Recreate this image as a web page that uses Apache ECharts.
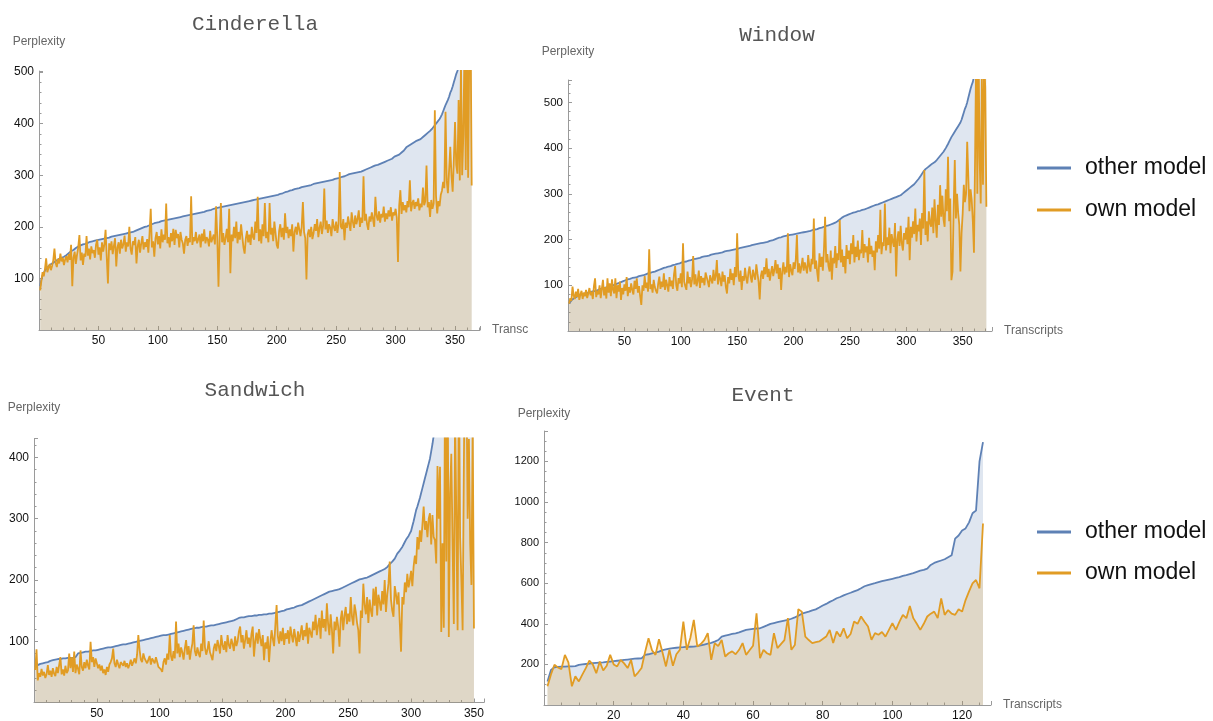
<!DOCTYPE html>
<html>
<head>
<meta charset="utf-8">
<script src="https://cdn.jsdelivr.net/npm/echarts@6/dist/echarts.min.js"></script>
<style>
  html, body { margin: 0; padding: 0; background: #fff; }
  #chart { width: 1213px; height: 721px; }
</style>
</head>
<body>
<div id="chart"></div>
<script>
// perplexity per transcript (transcript index starts at 1)
const cinderellaOther = [
  85, 98, 106, 111, 115, 118, 121, 124, 126, 128,
  129, 131, 132, 134, 135, 137, 138, 139, 140, 141,
  142, 143, 145, 147, 149, 151, 153, 154, 155, 157,
  159, 160, 162, 163, 164, 165, 166, 167, 167, 168,
  169, 170, 171, 171, 172, 173, 173, 174, 174, 175,
  175, 176, 176, 177, 177, 178, 178, 179, 179, 180,
  181, 181, 182, 182, 183, 183, 184, 184, 185, 185,
  186, 186, 187, 187, 188, 188, 189, 189, 190, 191,
  192, 193, 194, 195, 196, 197, 198, 199, 200, 200,
  201, 202, 203, 204, 205, 206, 207, 207, 208, 209,
  209, 210, 211, 211, 212, 212, 213, 213, 214, 214,
  215, 215, 216, 216, 217, 217, 218, 218, 219, 219,
  220, 220, 221, 221, 222, 222, 223, 223, 224, 224,
  225, 225, 226, 226, 227, 227, 228, 229, 229, 230,
  231, 231, 232, 233, 233, 234, 235, 235, 236, 237,
  237, 238, 238, 239, 239, 240, 240, 241, 241, 242,
  242, 242, 243, 243, 244, 244, 245, 245, 246, 246,
  247, 247, 248, 248, 249, 249, 250, 250, 251, 251,
  252, 252, 253, 253, 254, 254, 255, 255, 256, 256,
  257, 257, 258, 258, 259, 259, 260, 260, 261, 262,
  262, 263, 264, 265, 265, 266, 267, 268, 268, 269,
  270, 270, 271, 272, 273, 273, 274, 275, 275, 276,
  277, 277, 278, 279, 279, 280, 280, 281, 281, 282,
  283, 283, 284, 284, 285, 285, 286, 286, 287, 287,
  288, 288, 289, 289, 290, 290, 291, 292, 293, 293,
  294, 295, 295, 296, 297, 297, 298, 299, 300, 301,
  302, 302, 303, 303, 304, 304, 305, 305, 306, 306,
  307, 308, 309, 310, 311, 312, 313, 314, 315, 316,
  317, 318, 319, 319, 320, 321, 322, 323, 324, 325,
  326, 327, 328, 329, 330, 331, 332, 334, 336, 337,
  338, 339, 340, 342, 344, 346, 348, 351, 354, 356,
  357, 358, 360, 362, 363, 364, 366, 367, 368, 369,
  370, 372, 374, 376, 378, 380, 382, 384, 386, 389,
  391, 394, 397, 400, 403, 406, 409, 413, 418, 424,
  430, 436, 439, 446, 452, 460, 465, 472, 480, 488,
  496, 502, 512, 525, 545, 570, 600, 630, 660, 700,
  740, 790, 850, 920
];
const cinderellaOwn = [
  77, 95, 112, 104, 118, 139, 112, 120, 128, 116,
  124, 135, 158, 130, 122, 138, 129, 148, 133, 140,
  126, 137, 143, 131, 147, 136, 165, 85, 140, 152,
  128, 146, 160, 184, 135, 150, 126, 148, 142, 182,
  144, 158, 137, 162, 149, 155, 140, 166, 175, 146,
  160, 135, 170, 152, 166, 194, 141, 90, 168, 155,
  172, 147, 163, 178, 123, 160, 170, 148, 175, 158,
  166, 183, 152, 170, 162, 200, 158, 146, 172, 165,
  180, 129, 162, 175, 150, 168, 182, 156, 170, 161,
  176, 150, 188, 235, 160, 172, 142, 178, 190, 166,
  182, 158, 195, 170, 185, 175, 245, 168, 180, 160,
  188, 172, 196, 165, 194, 178, 186, 160, 190, 175,
  168, 148, 175, 182, 163, 178, 170, 259, 165, 180,
  172, 190, 168, 176, 185, 160, 187, 172, 195, 168,
  180, 175, 162, 192, 170, 171, 185, 166, 240, 178,
  84, 182, 246, 170, 188, 165, 178, 196, 170, 235,
  110, 185, 172, 200, 178, 210, 168, 190, 175, 205,
  182, 160, 148, 178, 192, 170, 185, 165, 200, 180,
  175, 210, 188, 258, 172, 195, 168, 205, 182, 246,
  178, 190, 170, 246, 185, 198, 172, 210, 188, 165,
  158, 192, 205, 180, 198, 175, 226, 188, 200, 178,
  195, 182, 205, 152, 190, 200, 185, 208, 195, 182,
  200, 248, 190, 178, 98, 185, 195, 180, 200, 176,
  188, 205, 192, 215, 180, 198, 210, 186, 202, 274,
  195, 212, 188, 205, 198, 182, 215, 200, 192, 210,
  188, 205, 306, 200, 196, 215, 174, 208, 198, 220,
  205, 192, 228, 210, 198, 222, 205, 215, 232, 200,
  218, 208, 298, 212, 225, 205, 194, 220, 210, 228,
  215, 200, 258, 222, 212, 230, 208, 225, 218, 239,
  210, 226, 215, 232, 220, 238, 212, 228, 222, 235,
  218, 132, 240, 271, 225, 248, 232, 242, 228, 250,
  238, 290, 230, 245, 252, 235, 248, 240, 255, 232,
  245, 238, 276, 242, 250, 319, 238, 248, 219, 252,
  235, 245, 426, 260, 226, 250, 240, 262, 270, 287,
  275, 423, 290, 265, 310, 355, 300, 268, 330, 403,
  320, 303, 446, 290, 520, 300, 380, 560, 310, 600,
  295, 540, 620, 280
];

const windowOther = [
  60, 64, 67, 69, 71, 72, 74, 75, 77, 78,
  79, 80, 81, 81, 82, 83, 83, 84, 85, 85,
  86, 86, 87, 88, 88, 89, 90, 91, 92, 92,
  93, 94, 95, 95, 96, 96, 97, 98, 99, 100,
  101, 102, 103, 104, 105, 106, 107, 108, 109, 110,
  111, 112, 113, 113, 114, 115, 116, 116, 117, 118,
  118, 119, 120, 120, 121, 122, 122, 123, 124, 125,
  126, 126, 127, 128, 129, 130, 130, 131, 132, 133,
  134, 135, 136, 137, 138, 138, 139, 140, 141, 142,
  142, 143, 144, 145, 145, 146, 147, 148, 148, 149,
  150, 150, 151, 152, 152, 153, 154, 155, 155, 156,
  157, 157, 158, 159, 159, 160, 160, 161, 162, 162,
  163, 164, 164, 165, 165, 166, 167, 167, 168, 168,
  169, 170, 170, 171, 171, 172, 172, 173, 174, 174,
  175, 175, 176, 176, 177, 177, 178, 179, 179, 180,
  180, 181, 182, 182, 183, 183, 184, 185, 185, 186,
  186, 187, 188, 188, 189, 189, 190, 190, 191, 192,
  192, 193, 193, 194, 194, 195, 195, 196, 197, 198,
  198, 199, 200, 201, 202, 203, 204, 204, 205, 206,
  207, 207, 208, 208, 209, 209, 210, 210, 211, 211,
  212, 212, 213, 213, 214, 214, 215, 215, 216, 216,
  217, 218, 218, 219, 219, 220, 221, 221, 222, 223,
  223, 224, 225, 225, 226, 227, 228, 229, 230, 231,
  231, 232, 233, 234, 235, 236, 237, 238, 240, 242,
  244, 246, 248, 250, 251, 252, 253, 254, 255, 256,
  257, 258, 259, 259, 260, 261, 262, 262, 263, 264,
  265, 265, 266, 267, 268, 269, 270, 271, 272, 273,
  274, 275, 276, 277, 277, 278, 279, 280, 281, 282,
  283, 284, 285, 286, 287, 288, 289, 290, 291, 292,
  293, 294, 295, 296, 297, 299, 301, 303, 305, 307,
  309, 311, 313, 315, 317, 319, 321, 324, 327, 330,
  333, 336, 340, 344, 348, 352, 354, 356, 358, 360,
  362, 364, 366, 368, 369, 371, 374, 377, 380, 383,
  386, 389, 392, 396, 400, 404, 409, 414, 419, 424,
  428, 432, 436, 440, 444, 448, 451, 456, 462, 470,
  478, 486, 492, 500, 510, 520, 530, 538, 545, 556,
  570, 590, 610, 630, 650, 680, 710, 740, 780, 820, 860
];
const windowOwn = [
  60, 72, 66, 97, 78, 70, 86, 74, 92, 68,
  80, 88, 70, 84, 76, 90, 72, 82, 94, 78,
  86, 70, 98, 115, 74, 88, 80, 100, 72, 92,
  112, 78, 96, 71, 115, 84, 104, 76, 113, 90,
  82, 115, 72, 100, 86, 108, 68, 94, 80, 102,
  88, 118, 76, 96, 84, 104, 90, 80, 110, 92,
  115, 84, 98, 76, 57, 100, 88, 120, 94, 106,
  86, 179, 92, 102, 84, 112, 96, 88, 82, 104,
  119, 92, 108, 96, 126, 90, 112, 100, 86, 118,
  98, 110, 92, 124, 142, 100, 88, 116, 104, 126,
  96, 192, 108, 98, 90, 130, 104, 118, 96, 112,
  164, 102, 124, 98, 110, 132, 94, 120, 106, 116,
  100, 128, 126, 108, 96, 122, 112, 104, 134, 110,
  120, 155, 102, 126, 114, 98, 130, 108, 122, 96,
  82, 118, 104, 136, 112, 126, 100, 140, 118, 214,
  124, 108, 132, 90, 120, 110, 138, 116, 104, 128,
  141, 118, 106, 134, 122, 112, 146, 126, 108, 69,
  120, 132, 114, 140, 124, 159, 118, 136, 110, 128,
  142, 120, 134, 155, 126, 146, 114, 138, 90, 130,
  150, 124, 140, 128, 214, 118, 146, 132, 122, 150,
  136, 156, 210, 128, 148, 126, 140, 160, 132, 150,
  138, 126, 166, 142, 130, 158, 146, 246, 136, 154,
  128, 108, 170, 140, 162, 132, 180, 250, 150, 168,
  142, 130, 176, 112, 160, 148, 186, 138, 170, 155,
  243, 150, 178, 140, 164, 126, 188, 158, 176, 146,
  192, 168, 210, 150, 184, 162, 198, 155, 178, 170,
  221, 160, 190, 172, 185, 150, 204, 168, 186, 162,
  176, 133, 196, 172, 210, 180, 265, 168, 194, 186,
  279, 176, 205, 188, 226, 170, 212, 196, 184, 236,
  119, 200, 218, 186, 230, 192, 176, 214, 200, 226,
  190, 250, 155, 228, 204, 240, 212, 268, 196, 232,
  218, 246, 188, 258, 224, 352, 210, 240, 196, 262,
  236, 228, 270, 214, 288, 240, 204, 276, 232, 319,
  250, 296, 244, 228, 310, 262, 381, 240, 290, 111,
  130, 270, 374, 246, 300, 258, 232, 130, 214, 257,
  320, 282, 300, 414, 336, 262, 310, 287, 240, 171,
  380, 620, 300, 640, 380, 279, 560, 320, 600, 533, 272
];

const sandwichOther = [
  58, 60, 61, 62, 63, 63, 64, 64, 65, 65,
  66, 67, 68, 69, 69, 70, 70, 71, 71, 71,
  71, 72, 72, 72, 72, 72, 73, 73, 73, 73,
  73, 74, 74, 76, 80, 81, 81, 82, 82, 82,
  83, 83, 83, 84, 84, 84, 85, 85, 85, 86,
  86, 86, 87, 87, 88, 88, 89, 89, 90, 90,
  90, 91, 91, 92, 92, 92, 93, 93, 94, 94,
  95, 95, 95, 96, 96, 96, 97, 97, 98, 98,
  99, 99, 100, 100, 101, 101, 102, 102, 103, 103,
  104, 104, 105, 105, 106, 106, 107, 107, 108, 108,
  109, 109, 110, 110, 110, 111, 111, 112, 112, 113,
  113, 114, 114, 115, 115, 116, 116, 117, 117, 118,
  118, 119, 119, 120, 120, 120, 121, 121, 122, 122,
  122, 123, 123, 123, 124, 124, 124, 125, 125, 125,
  126, 126, 126, 127, 127, 127, 128, 128, 129, 129,
  130, 130, 131, 131, 132, 132, 133, 134, 134, 135,
  136, 137, 138, 138, 139, 139, 139, 140, 140, 140,
  141, 141, 141, 141, 142, 142, 142, 142, 143, 143,
  143, 143, 144, 144, 144, 144, 145, 145, 145, 145,
  146, 146, 147, 147, 148, 149, 149, 150, 150, 151,
  152, 152, 153, 154, 154, 155, 155, 156, 157, 157,
  158, 158, 159, 160, 161, 162, 163, 164, 165, 166,
  167, 168, 169, 170, 171, 172, 173, 174, 175, 176,
  177, 178, 179, 180, 181, 181, 182, 182, 183, 183,
  184, 184, 185, 186, 187, 188, 189, 190, 191, 192,
  193, 194, 195, 196, 197, 198, 199, 200, 201, 202,
  202, 203, 203, 204, 204, 205, 206, 207, 208, 209,
  210, 211, 212, 213, 214, 215, 216, 217, 218, 219,
  221, 223, 226, 229, 230, 231, 235, 239, 243, 246,
  248, 250, 254, 258, 262, 266, 269, 272, 276, 280,
  288, 296, 305, 314, 320, 327, 334, 342, 350, 358,
  366, 374, 382, 390, 398, 410, 422, 436, 450, 465,
  478, 492, 506, 522, 540, 556, 574, 596, 614, 636,
  652, 676, 694, 718, 736, 758, 780, 802, 826, 848,
  866, 890, 912, 936, 958, 982, 1004, 1030, 1052, 1080
];
const sandwichOwn = [
  53, 87, 36, 48, 42, 55, 44, 50, 40, 46,
  61, 45, 52, 42, 56, 47, 43, 58, 48, 50,
  74, 46, 54, 44, 60, 48, 52, 80, 56, 74,
  50, 83, 48, 62, 55, 46, 85, 58, 52, 66,
  56, 70, 60, 54, 99, 66, 74, 58, 72, 64,
  56, 62, 52, 60, 48, 54, 45, 58, 50, 62,
  66, 72, 88, 64, 58, 70, 62, 56, 66, 64,
  60, 68, 58, 64, 56, 62, 70, 60, 66, 72,
  64, 78, 110, 86, 70, 66, 80, 72, 69, 64,
  70, 76, 62, 72, 68, 64, 74, 66, 58, 60,
  54, 50, 66, 72, 62, 80, 70, 110, 76, 68,
  84, 72, 132, 80, 96, 74, 90, 82, 70, 88,
  102, 78, 92, 70, 86, 96, 126, 84, 76, 90,
  80, 74, 96, 84, 134, 90, 78, 86, 100, 82,
  76, 69, 88, 96, 84, 102, 92, 80, 110, 94,
  86, 100, 82, 110, 94, 88, 104, 96, 84, 108,
  92, 100, 116, 124, 98, 110, 88, 102, 118, 96,
  106, 90, 112, 124, 75, 100, 114, 96, 120, 104,
  92, 110, 69, 98, 88, 108, 66, 96, 118, 104,
  92, 126, 159, 108, 96, 116, 100, 122, 94, 113,
  104, 118, 96, 124, 110, 98, 120, 106, 92, 116,
  99, 112, 126, 102, 118, 108, 130, 96, 122, 114,
  106, 132, 118, 143, 110, 126, 138, 104, 150, 122,
  136, 116, 162, 128, 110, 144, 120, 80, 132, 118,
  140, 124, 91, 136, 150, 118, 142, 156, 128, 145,
  132, 172, 140, 126, 160, 148, 130, 118, 80, 150,
  138, 194, 160, 144, 172, 130, 168, 150, 140, 186,
  158, 189, 142, 176, 164, 150, 182, 160, 200, 148,
  176, 194, 230, 168, 150, 140, 190, 176, 160, 180,
  130, 83, 172, 160, 196, 180, 210, 188, 200, 215,
  190, 222, 240, 226, 270, 250, 281, 262, 290, 320,
  282, 296, 270, 300, 309, 258, 306, 270, 265, 227,
  386, 300, 385, 115, 260, 122, 520, 230, 600, 107,
  340, 406, 260, 128, 480, 300, 118, 560, 270, 200,
  118, 390, 620, 540, 300, 430, 260, 192, 460, 121
];

const eventOther = [
  116, 173, 186, 188, 189, 189, 190, 190, 192, 198,
  200, 202, 204, 206, 208, 209, 210, 212, 214, 216,
  218, 220, 222, 224, 226, 228, 229, 230, 247, 250,
  254, 258, 263, 270, 274, 278, 280, 282, 284, 285,
  286, 287, 288, 290, 294, 298, 302, 306, 312, 320,
  337, 342, 346, 350, 353, 358, 364, 370, 373, 375,
  377, 378, 385, 392, 400, 404, 408, 412, 416, 419,
  425, 432, 440, 450, 455, 460, 466, 471, 480, 490,
  498, 508, 516, 526, 532, 540, 547, 553, 560, 566,
  575, 585, 591, 596, 600, 605, 610, 614, 618, 622,
  626, 630, 636, 640, 645, 650, 656, 662, 666, 672,
  690, 700, 706, 712, 718, 728, 738, 820, 835, 860,
  870, 900, 945, 958, 1200, 1295
];
const eventOwn = [
  92, 150, 198, 185, 177, 247, 210, 92, 141, 116,
  150, 182, 219, 200, 157, 214, 170, 193, 247, 200,
  190, 222, 205, 182, 222, 141, 160, 182, 260, 329,
  270, 247, 324, 260, 190, 272, 193, 250, 272, 411,
  272, 330, 419, 288, 300, 320, 354, 222, 305, 290,
  321, 239, 255, 264, 250, 272, 305, 247, 270, 292,
  452, 231, 272, 255, 247, 354, 280, 300, 320, 428,
  272, 296, 472, 460, 337, 320, 305, 310, 313, 325,
  337, 370, 305, 362, 337, 378, 329, 350, 411, 400,
  436, 410, 387, 321, 354, 346, 360, 337, 370, 403,
  370, 410, 444, 428, 488, 428, 400, 370, 400, 436,
  450, 460, 428, 525, 444, 468, 450, 444, 472, 460,
  517, 560, 599, 616, 575, 894
];

const seriesNames = ['other model', 'own model'];
const panelTitles = ['Cinderella', 'Window', 'Sandwich', 'Event'];
// the Cinderella panel is cropped, only the start of its axis label shows
const xAxisNames = ['Transc', 'Transcripts', '', 'Transcripts'];

const BLUE = '#5E81B5';
const ORANGE = '#E19C24';
const AXIS = '#9a9a9a';
const SANS = '"Liberation Sans", Arial, Helvetica, sans-serif';
const MONO = '"Liberation Mono", "Courier New", Courier, monospace';

// layout of each Mathematica panel, measured on the screenshot
const panels = [
  {
    titleX: 255, titleY: 13.5,
    grid: { left: 39, top: 71, width: 441, height: 259 },
    xMax: 371, xStep: 50, xMinor: 5, yMax: 502, yStep: 100, yMinor: 5,
    yNameGap: 29, yLabelSize: 12,
    other: cinderellaOther, own: cinderellaOwn,
  },
  {
    titleX: 777, titleY: 24.5,
    grid: { left: 568, top: 80, width: 424, height: 251 },
    xMax: 376, xStep: 50, xMinor: 5, yMax: 549, yStep: 100, yMinor: 5,
    yNameGap: 28, yLabelSize: 11.5,
    other: windowOther, own: windowOwn,
  },
  {
    titleX: 255, titleY: 379.5,
    grid: { left: 34, top: 438.5, width: 450, height: 264 },
    xMax: 358, xStep: 50, xMinor: 5, yMax: 431, yStep: 100, yMinor: 5,
    yNameGap: 30.5, yLabelSize: 12,
    other: sandwichOther, own: sandwichOwn,
  },
  {
    titleX: 763, titleY: 384.5,
    grid: { left: 544, top: 431, width: 447, height: 274 },
    xMax: 128.3, xStep: 20, xMinor: 4, yMax: 1350, yStep: 200, yMinor: 4,
    yNameGap: 17.6, yLabelSize: 11,
    other: eventOther, own: eventOwn,
  },
];

function toPoints(values) {
  return values.map((v, i) => [i + 1, v]);
}

function stepLabel(step) {
  return (v) => (v > 0 && v % step === 0 ? String(v) : '');
}

function lineSeries(name, color, values, idx) {
  return {
    name,
    type: 'line',
    xAxisIndex: idx,
    yAxisIndex: idx,
    data: toPoints(values),
    showSymbol: false,
    symbol: 'none',
    clip: true,
    silent: true,
    lineStyle: { color, width: 1.8 },
    itemStyle: { color },
    areaStyle: { color, opacity: 0.2 },
  };
}

const grid = [];
const xAxis = [];
const yAxis = [];
const series = [];
const title = [];

panels.forEach((p, idx) => {
  grid.push({ ...p.grid, containLabel: false, outerBoundsMode: 'none' });
  title.push({
    text: panelTitles[idx],
    left: p.titleX,
    top: p.titleY,
    textAlign: 'center',
    padding: 0,
    textStyle: { fontFamily: MONO, fontSize: 21, fontWeight: 'normal', color: '#555' },
  });
  xAxis.push({
    type: 'value',
    gridIndex: idx,
    min: 0,
    max: p.xMax,
    interval: p.xStep,
    name: xAxisNames[idx],
    nameLocation: 'end',
    nameGap: 12,
    nameTextStyle: { fontFamily: SANS, fontSize: 12, color: '#666' },
    axisLine: { onZero: false, lineStyle: { color: AXIS, width: 1 } },
    axisTick: { inside: true, length: 4, lineStyle: { color: AXIS } },
    minorTick: { show: true, splitNumber: p.xMinor, length: 2.5, lineStyle: { color: AXIS } },
    splitLine: { show: false },
    axisLabel: {
      showMinLabel: false,
      showMaxLabel: false,
      margin: 5,
      fontFamily: SANS,
      fontSize: 12,
      color: '#111',
      formatter: stepLabel(p.xStep),
    },
  });
  yAxis.push({
    type: 'value',
    gridIndex: idx,
    min: 0,
    max: p.yMax,
    interval: p.yStep,
    name: 'Perplexity',
    nameLocation: 'end',
    nameGap: p.yNameGap,
    nameTextStyle: { fontFamily: SANS, fontSize: 12, color: '#666', align: 'center', verticalAlign: 'middle' },
    axisLine: { onZero: false, lineStyle: { color: AXIS, width: 1 } },
    axisTick: { inside: true, length: 4, lineStyle: { color: AXIS } },
    minorTick: { show: true, splitNumber: p.yMinor, length: 2.5, lineStyle: { color: AXIS } },
    splitLine: { show: false },
    axisLabel: {
      showMinLabel: false,
      showMaxLabel: false,
      margin: 5,
      fontFamily: SANS,
      fontSize: p.yLabelSize,
      color: '#111',
      formatter: stepLabel(p.yStep),
    },
  });
  series.push(lineSeries(seriesNames[0], BLUE, p.other, idx));
  series.push(lineSeries(seriesNames[1], ORANGE, p.own, idx));
});

// the same legend is repeated next to each row of panels
const legendBase = {
  data: seriesNames,
  orient: 'vertical',
  left: 1037,
  icon: 'rect',
  itemWidth: 34,
  itemHeight: 3,
  selectedMode: false,
  padding: 0,
  textStyle: { fontFamily: SANS, fontSize: 23, color: '#111', lineHeight: 24, padding: [0, 0, 0, 9] },
};

const chart = echarts.init(document.getElementById('chart'), null, { renderer: 'canvas' });
chart.setOption({
  animation: false,
  backgroundColor: '#fff',
  title,
  legend: [
    { ...legendBase, top: 156, itemGap: 18 },
    { ...legendBase, top: 520, itemGap: 17 },
  ],
  grid,
  xAxis,
  yAxis,
  series,
});
</script>
</body>
</html>
